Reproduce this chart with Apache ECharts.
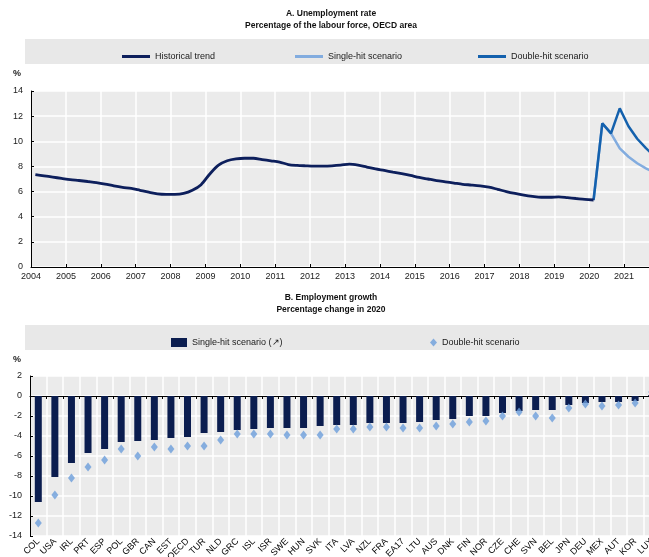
<!DOCTYPE html>
<html><head><meta charset="utf-8">
<script src="https://cdn.jsdelivr.net/npm/echarts@6/dist/echarts.min.js"></script>
<style>html,body{margin:0;padding:0;background:#fff}#c{width:649px;height:557px}</style>
</head><body><div id="c"></div>
<script>
// ---- Panel A: unemployment rate, quarterly (mid-quarter positions) ----
const histStartYear = 2004;
const historical = [
  7.35, 7.25, 7.15, 7.05,
  6.95, 6.88, 6.80, 6.72,
  6.60, 6.45, 6.33, 6.25,
  6.10, 5.95, 5.82, 5.78,
  5.78, 5.85, 6.10, 6.55,
  7.40, 8.10, 8.45, 8.60,
  8.65, 8.65, 8.55, 8.45,
  8.35, 8.15, 8.08, 8.05,
  8.03, 8.03, 8.05, 8.10,
  8.18, 8.10, 7.95, 7.80,
  7.68, 7.55, 7.42, 7.28,
  7.12, 7.00, 6.88, 6.78,
  6.68, 6.58, 6.52, 6.45,
  6.35, 6.18, 6.00, 5.85,
  5.72, 5.62, 5.55, 5.55,
  5.58, 5.52, 5.45, 5.38,
  5.33
];
const scenarioStartYear = 2020;
const singleHit = [5.33, 11.43, 10.63, 9.44, 8.77, 8.25, 7.85, 7.50];
const doubleHit = [5.33, 11.43, 10.63, 12.62, 11.20, 10.20, 9.45, 8.80];
const yearTicks = [2004, 2022];

// ---- Panel B: employment growth 2020 ----
const countries = ['COL','USA','IRL','PRT','ESP','POL','GBR','CAN','EST','OECD','TUR','NLD','GRC','ISL','ISR','SWE','HUN','SVK','ITA','LVA','NZL','FRA','EA17','LTU','AUS','DNK','FIN','NOR','CZE','CHE','SVN','BEL','JPN','DEU','MEX','AUT','KOR','LUX'];
const singleHitGrowth = [-10.6,-8.1,-6.7,-5.7,-5.3,-4.6,-4.5,-4.4,-4.2,-4.1,-3.7,-3.6,-3.4,-3.3,-3.2,-3.2,-3.2,-3.0,-2.9,-2.9,-2.7,-2.7,-2.7,-2.6,-2.4,-2.3,-2.0,-2.0,-1.7,-1.5,-1.4,-1.4,-0.9,-0.7,-0.6,-0.6,-0.5,0.1];
const doubleHitGrowth = [-12.7,-9.9,-8.2,-7.1,-6.4,-5.3,-6.0,-5.1,-5.3,-5.0,-5.0,-4.4,-3.8,-3.8,-3.8,-3.9,-3.9,-3.9,-3.3,-3.3,-3.1,-3.1,-3.2,-3.2,-3.0,-2.8,-2.6,-2.5,-2.0,-1.6,-2.0,-2.2,-1.2,-0.8,-1.0,-0.9,-0.7,0.4];

const toQ = (arr, y0) => arr.map((v, i) => [y0 + 0.125 + 0.25 * i, v]);

const FONT = "'Liberation Sans Narrow','Arial Narrow','Liberation Sans',Arial,sans-serif";
const C_HIST = '#0d1f5c', C_SINGLE = '#82acdf', C_DOUBLE = '#1461ad';
const C_BAR = '#0b1d4f', C_DIAM = '#6c9ddb';
const BG = '#ebebeb';
const txt = {fontFamily: FONT, fontSize: 9, color: '#1a1a1a'};
const lineIcon = 'path://M0,0 L28,0 L28,3 L0,3 Z';

const chart = echarts.init(document.getElementById('c'), null, {renderer: 'canvas'});
chart.setOption({
  animation: false,
  backgroundColor: '#fff',
  textStyle: {fontFamily: FONT},
  title: [
    {text: 'A. Unemployment rate\nPercentage of the labour force, OECD area', left: 326, top: 3, textAlign: 'center',
     textStyle: {fontFamily: FONT, fontSize: 8.5, fontWeight: 'bold', color: '#111', lineHeight: 12}},
    {text: 'B. Employment growth\nPercentage change in 2020', left: 326, top: 287, textAlign: 'center',
     textStyle: {fontFamily: FONT, fontSize: 8.5, fontWeight: 'bold', color: '#111', lineHeight: 12}}
  ],
  graphic: [
    {type: 'rect', shape: {x: 25, y: 39, width: 640, height: 25}, style: {fill: '#e8e8e8'}, z: -1},
    {type: 'rect', shape: {x: 25, y: 325, width: 640, height: 25}, style: {fill: '#e8e8e8'}, z: -1},
    {type: 'text', left: 13, top: 69, style: {text: '%', font: 'bold 9px ' + FONT, fill: '#222'}},
    {type: 'text', left: 13, top: 355, style: {text: '%', font: 'bold 9px ' + FONT, fill: '#222'}}
  ],
  legend: [
    {data: [{name: 'Historical trend', icon: lineIcon}], left: 117, top: 47, itemWidth: 28, itemHeight: 3, itemGap: 2, textStyle: txt},
    {data: [{name: 'Single-hit scenario', icon: lineIcon}], left: 290, top: 47, itemWidth: 28, itemHeight: 3, textStyle: txt},
    {data: [{name: 'Double-hit scenario', icon: lineIcon}], left: 473, top: 47, itemWidth: 28, itemHeight: 3, textStyle: txt},
    {data: [{name: 'Single-hit scenario (\u2197)', icon: 'rect'}], left: 166, top: 333, itemWidth: 16, itemHeight: 9, textStyle: txt},
    {data: [{name: 'Double-hit scenario ', icon: 'diamond'}], left: 425, top: 333, itemWidth: 7, itemHeight: 8, textStyle: txt, itemGap: 2}
  ],
  grid: [
    {left: 31, top: 91, width: 628, height: 176, show: true, backgroundColor: BG, borderWidth: 0, outerBoundsMode: 'none', containLabel: false},
    {left: 30, top: 376, width: 630, height: 160, show: true, backgroundColor: BG, borderWidth: 0, outerBoundsMode: 'none', containLabel: false}
  ],
  xAxis: [
    {gridIndex: 0, type: 'value', min: yearTicks[0], max: yearTicks[1], interval: 1,
     axisLine: {show: true, lineStyle: {color: '#000', width: 1}},
     axisTick: {show: true, inside: true, length: 3, lineStyle: {color: '#000'}},
     axisLabel: {...txt, margin: 5, formatter: v => (v < yearTicks[1] ? String(v) : '')},
     splitLine: {show: true, lineStyle: {color: '#fff', width: 1.5}}},
    {gridIndex: 1, type: 'category', data: countries, position: 'bottom',
     axisLine: {show: false, onZero: false}, axisTick: {show: false},
     axisLabel: {...txt, color: '#000', interval: 0, rotate: 45, margin: 4},
     splitLine: {show: true, interval: 0, lineStyle: {color: '#fff', width: 1.5}}},
    {gridIndex: 1, type: 'category', data: countries,
     axisLine: {show: true, onZero: true, lineStyle: {color: '#000', width: 1}},
     axisTick: {show: true, inside: true, length: 3, interval: 0, lineStyle: {color: '#000'}},
     axisLabel: {show: false}, splitLine: {show: false}}
  ],
  yAxis: [
    {gridIndex: 0, type: 'value', min: 0, max: 14, interval: 2,
     axisLine: {show: true, lineStyle: {color: '#000', width: 1}},
     axisTick: {show: true, inside: true, length: 3, lineStyle: {color: '#000'}},
     axisLabel: {...txt, margin: 8},
     splitLine: {show: true, lineStyle: {color: '#fff', width: 1.5}}},
    {gridIndex: 1, type: 'value', min: -14, max: 2, interval: 2,
     axisLine: {show: true, lineStyle: {color: '#000', width: 1}},
     axisTick: {show: true, inside: true, length: 3, lineStyle: {color: '#000'}},
     axisLabel: {...txt, margin: 8},
     splitLine: {show: true, lineStyle: {color: '#fff', width: 1.5}}}
  ],
  series: [
    {name: 'Single-hit scenario', type: 'line', xAxisIndex: 0, yAxisIndex: 0, data: toQ(singleHit, scenarioStartYear),
     symbol: 'none', lineStyle: {color: C_SINGLE, width: 2.5}, itemStyle: {color: C_SINGLE}, z: 2},
    {name: 'Double-hit scenario', type: 'line', xAxisIndex: 0, yAxisIndex: 0, data: toQ(doubleHit, scenarioStartYear),
     symbol: 'none', lineStyle: {color: C_DOUBLE, width: 2.5}, itemStyle: {color: C_DOUBLE}, z: 3},
    {name: 'Historical trend', type: 'line', xAxisIndex: 0, yAxisIndex: 0, data: toQ(historical, histStartYear),
     symbol: 'none', smooth: 0.3, lineStyle: {color: C_HIST, width: 2.8}, itemStyle: {color: C_HIST}, z: 4},
    {name: 'Single-hit scenario (\u2197)', type: 'bar', xAxisIndex: 1, yAxisIndex: 1, data: singleHitGrowth,
     barWidth: 7, itemStyle: {color: C_BAR}, z: 2},
    {name: 'Double-hit scenario ', type: 'scatter', xAxisIndex: 2, yAxisIndex: 1, data: doubleHitGrowth,
     symbol: 'diamond', symbolSize: [7, 9], itemStyle: {color: C_DIAM}, z: 5}
  ]
});
</script></body></html>
